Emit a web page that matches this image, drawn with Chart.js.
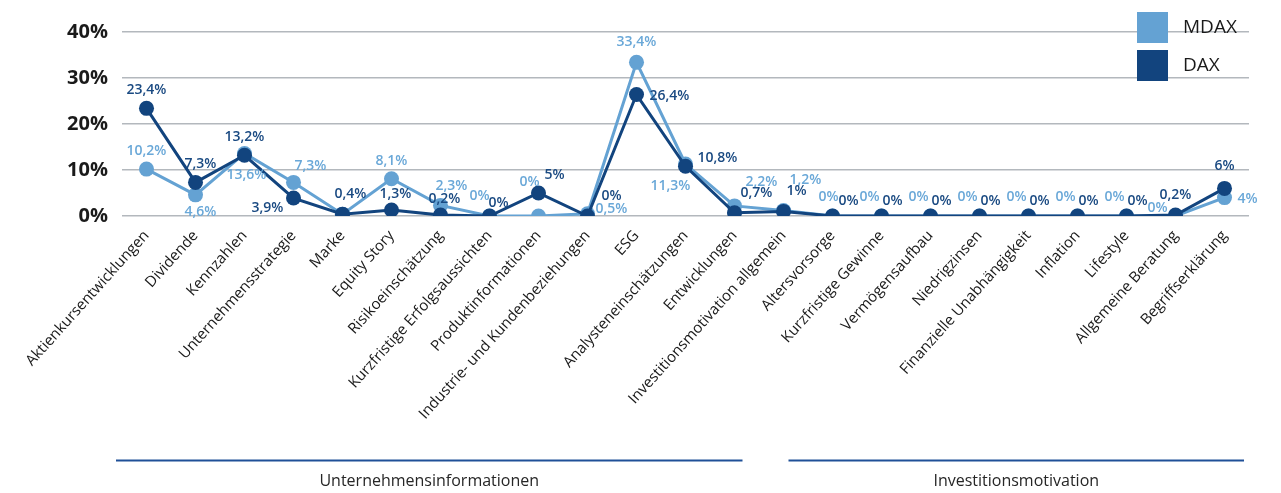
<!DOCTYPE html>
<html lang="de">
<head>
<meta charset="utf-8">
<title>Informationsinteresse DAX / MDAX</title>
<script src="https://cdn.jsdelivr.net/npm/chart.js@4.4.1/dist/chart.umd.min.js"></script>
<style>
  html, body { margin: 0; padding: 0; background: #ffffff; }
  #wrap { width: 1281px; height: 493px; }
</style>
</head>
<body>
<div id="wrap"><canvas id="chart" width="1281" height="493"></canvas></div>
<script>
// Themen entlang der x-Achse
const categories = [
  'Aktienkursentwicklungen', 'Dividende', 'Kennzahlen', 'Unternehmensstrategie', 'Marke',
  'Equity Story', 'Risikoeinschätzung', 'Kurzfristige Erfolgsaussichten', 'Produktinformationen',
  'Industrie- und Kundenbeziehungen', 'ESG', 'Analysteneinschätzungen', 'Entwicklungen',
  'Investitionsmotivation allgemein', 'Altersvorsorge', 'Kurzfristige Gewinne', 'Vermögensaufbau',
  'Niedrigzinsen', 'Finanzielle Unabhängigkeit', 'Inflation', 'Lifestyle', 'Allgemeine Beratung',
  'Begriffserklärung'
];

// Anteile in Prozent
const mdaxValues = [10.2, 4.6, 13.6, 7.3, 0.4, 8.1, 2.3, 0, 0, 0.5, 33.4, 11.3, 2.2, 1.2,
                    0, 0, 0, 0, 0, 0, 0, 0, 4];
const daxValues  = [23.4, 7.3, 13.2, 3.9, 0.4, 1.3, 0.2, 0, 5, 0, 26.4, 10.8, 0.7, 1,
                    0, 0, 0, 0, 0, 0, 0, 0.2, 6];

const seriesNames = ['MDAX', 'DAX'];
const yTickValues = [0, 10, 20, 30, 40];

// Themengruppen unter der Achse (erster und letzter Index)
const groupLabels = ['Unternehmensinformationen', 'Investitionsmotivation'];
const groupFirst  = [0, 13];
const groupLast   = [12, 22];

// Lage der Wertbeschriftungen relativ zum Punkt (dx, dy); null = ohne Beschriftung
const mdaxLabelShift = [
  [0, -18], [5, 17], [2, 22], [17, -16], null, [0, -18], [11, -19], [-10, -20], [-9, -34],
  [24, -5], [0, -20], [-15, 22], [27, -24], [22, -30], [-4, -19], [-12, -19], [-12, -19],
  [-12, -19], [-12, -19], [-12, -19], [-12, -19], [-18, -8], [23, 1]
];
const daxLabelShift = [
  [0, -18], [5, -18], [0, -18], [-26, 10], [8, -20], [4, -16], [4, -16], [9, -13], [16, -18],
  [24, -20], [33, 1], [32, -8], [22, -20], [13, -20], [16, -15], [11, -15], [11, -15],
  [11, -15], [11, -15], [11, -15], [11, -15], [0, -20], [0, -22]
];

const MDAX_COLOR = '#64a2d3';
const DAX_COLOR = '#12447e';
const FONT = "'Open Sans', 'DejaVu Sans', sans-serif";

function pct(v) {
  const s = Number.isInteger(v) ? String(v) : v.toFixed(1).replace('.', ',');
  return s + '%';
}

// Wertbeschriftungen an den Punkten
const valueLabels = {
  id: 'valueLabels',
  afterDatasetsDraw(chart) {
    const ctx = chart.ctx;
    ctx.save();
    ctx.font = '600 14px ' + FONT;
    ctx.textAlign = 'center';
    ctx.textBaseline = 'middle';
    chart.data.datasets.forEach((ds, di) => {
      const meta = chart.getDatasetMeta(di);
      const shifts = ds.labelShift;
      ctx.fillStyle = ds.labelColor;
      meta.data.forEach((pt, i) => {
        const s = shifts[i];
        if (!s) return;
        ctx.fillText(pct(ds.data[i]), pt.x + s[0], pt.y + s[1]);
      });
    });
    ctx.restore();
  }
};

// Legende oben rechts im Diagrammbereich
const boxLegend = {
  id: 'boxLegend',
  afterDraw(chart) {
    const ctx = chart.ctx;
    const area = chart.chartArea;
    const bx = area.right - 112;
    ctx.save();
    ctx.font = '19px ' + FONT;
    ctx.textAlign = 'left';
    ctx.textBaseline = 'middle';
    [0, 1].forEach((di, k) => {
      const ds = chart.data.datasets[di];
      const by = 12 + k * 38;
      ctx.fillStyle = ds.borderColor;
      ctx.fillRect(bx, by, 31, 31);
      ctx.fillStyle = '#1a1a1a';
      ctx.fillText(ds.label, bx + 46, by + 16);
    });
    ctx.restore();
  }
};

// Gruppenlinien und -titel unter den Achsenbeschriftungen
const groupBands = {
  id: 'groupBands',
  afterDraw(chart) {
    const ctx = chart.ctx;
    const x = chart.scales.x;
    const half = (x.getPixelForValue(1) - x.getPixelForValue(0)) / 2;
    const inset = [[-half - 6, 8], [5, half - 5]];
    ctx.save();
    ctx.strokeStyle = '#1f5098';
    ctx.lineWidth = 2;
    ctx.fillStyle = '#262626';
    ctx.font = '16px ' + FONT;
    ctx.textAlign = 'center';
    ctx.textBaseline = 'middle';
    groupLabels.forEach((name, g) => {
      const x0 = x.getPixelForValue(groupFirst[g]) + inset[g][0];
      const x1 = x.getPixelForValue(groupLast[g]) + inset[g][1];
      ctx.beginPath();
      ctx.moveTo(x0, 460.5);
      ctx.lineTo(x1, 460.5);
      ctx.stroke();
      ctx.fillText(name, (x0 + x1) / 2, 481);
    });
    ctx.restore();
  }
};

new Chart(document.getElementById('chart'), {
  type: 'line',
  data: {
    labels: categories,
    datasets: [
      {
        label: seriesNames[0],
        data: mdaxValues,
        borderColor: MDAX_COLOR,
        backgroundColor: MDAX_COLOR,
        pointBackgroundColor: MDAX_COLOR,
        labelColor: '#6aa8d8',
        labelShift: mdaxLabelShift,
        order: 1
      },
      {
        label: seriesNames[1],
        data: daxValues,
        borderColor: DAX_COLOR,
        backgroundColor: DAX_COLOR,
        pointBackgroundColor: DAX_COLOR,
        labelColor: '#1a4a82',
        labelShift: daxLabelShift,
        order: 0
      }
    ]
  },
  options: {
    responsive: false,
    animation: false,
    devicePixelRatio: 1,
    layout: { padding: { top: 32, right: 32, bottom: 0, left: 0 } },
    elements: {
      line: { borderWidth: 3, tension: 0 },
      point: { radius: 7.5, borderWidth: 0, hoverRadius: 7.5 }
    },
    plugins: {
      legend: { display: false },
      tooltip: { enabled: false }
    },
    scales: {
      x: {
        offset: true,
        grid: { display: false, drawTicks: false },
        border: { display: false },
        afterFit(scale) { scale.height = 277; },
        ticks: {
          autoSkip: false,
          minRotation: 48,
          maxRotation: 48,
          padding: 11,
          color: '#1a1a1a',
          font: { family: FONT, size: 15 }
        }
      },
      y: {
        min: 0,
        max: 40,
        afterFit(scale) { scale.width = 122; },
        afterBuildTicks(scale) { scale.ticks = yTickValues.map(v => ({ value: v })); },
        grid: { color: '#b3b8bd', lineWidth: 1.5, drawTicks: false },
        border: { display: false },
        ticks: {
          padding: 14,
          color: '#1a1a1a',
          font: { family: FONT, size: 20, weight: 'bold' },
          callback: v => v + '%'
        }
      }
    }
  },
  plugins: [valueLabels, boxLegend, groupBands]
});
</script>
</body>
</html>
